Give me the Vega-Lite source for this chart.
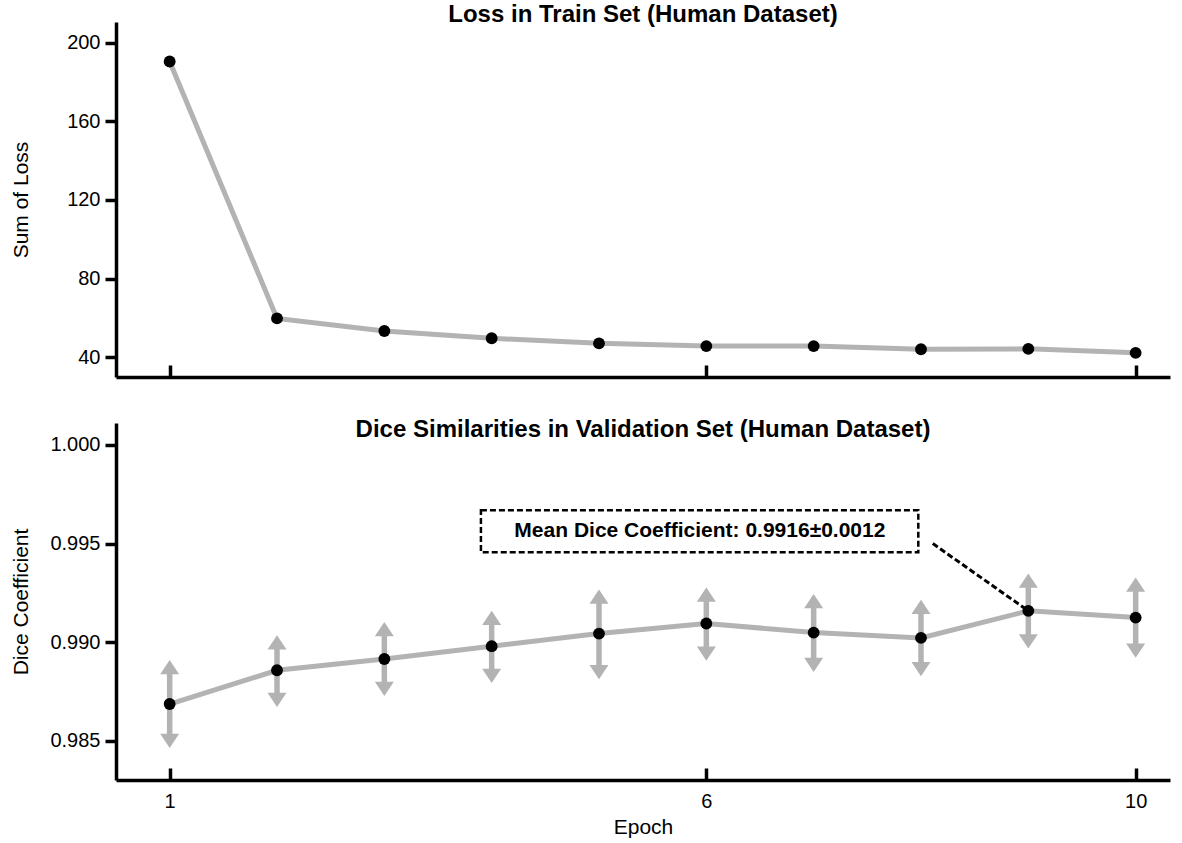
{
  "$schema": "https://vega.github.io/schema/vega-lite/v6.json",
  "autosize": {"type": "pad"},
  "padding": {"left": 10, "top": 3, "right": 10, "bottom": 10},
  "background": "white",
  "config": {
    "view": {"stroke": null},
    "font": "Liberation Sans",
    "axis": {
      "domainColor": "black",
      "domainWidth": 3.5,
      "tickColor": "black",
      "tickWidth": 3.5,
      "grid": false,
      "labelFont": "Liberation Sans",
      "labelFontSize": 20,
      "labelColor": "black",
      "titleFont": "Liberation Sans",
      "titleFontSize": 21,
      "titleFontWeight": "normal",
      "titleColor": "black"
    },
    "title": {"font": "Liberation Sans", "fontSize": 24, "fontWeight": "bold", "color": "black", "anchor": "middle"}
  },
  "datasets": {
    "loss": [
      {"epoch": 1, "loss": 190.4},
      {"epoch": 2, "loss": 59.8},
      {"epoch": 3, "loss": 53.4},
      {"epoch": 4, "loss": 49.7},
      {"epoch": 5, "loss": 47.1},
      {"epoch": 6, "loss": 45.7},
      {"epoch": 7, "loss": 45.7},
      {"epoch": 8, "loss": 44.1},
      {"epoch": 9, "loss": 44.3},
      {"epoch": 10, "loss": 42.3}
    ],
    "dice": [
      {"epoch": 1, "dice": 0.98687, "lo": 0.98464, "hi": 0.98910},
      {"epoch": 2, "dice": 0.98858, "lo": 0.98672, "hi": 0.99036},
      {"epoch": 3, "dice": 0.98915, "lo": 0.98728, "hi": 0.99103},
      {"epoch": 4, "dice": 0.98980, "lo": 0.98794, "hi": 0.99159},
      {"epoch": 5, "dice": 0.99044, "lo": 0.98813, "hi": 0.99267},
      {"epoch": 6, "dice": 0.99095, "lo": 0.98906, "hi": 0.99277},
      {"epoch": 7, "dice": 0.99049, "lo": 0.98849, "hi": 0.99244},
      {"epoch": 8, "dice": 0.99022, "lo": 0.98828, "hi": 0.99216},
      {"epoch": 9, "dice": 0.99159, "lo": 0.98968, "hi": 0.99349},
      {"epoch": 10, "dice": 0.99125, "lo": 0.98922, "hi": 0.99328}
    ],
    "note": [
      {"x1": 3.9, "x2": 7.975, "y1": 0.99456, "y2": 0.99669, "tx": 5.94, "ty": 0.99562, "label": "Mean Dice Coefficient: 0.9916±0.0012", "lx1": 8.11, "ly1": 0.9950, "lx2": 9, "ly2": 0.99159}
    ]
  },
  "bounds": "flush",
  "spacing": 46,
  "vconcat": [
    {
      "width": 1054,
      "height": 355,
      "title": {"text": "Loss in Train Set (Human Dataset)", "offset": -5},
      "data": {"name": "loss"},
      "encoding": {
        "x": {
          "field": "epoch", "type": "quantitative",
          "scale": {"domain": [0.5, 10.32], "nice": false, "zero": false},
          "axis": {"values": [1, 6, 10], "labels": false, "title": null, "tickSize": -12}
        },
        "y": {
          "field": "loss", "type": "quantitative",
          "scale": {"domain": [30, 210.5], "nice": false, "zero": false},
          "axis": {"values": [40, 80, 120, 160, 200], "title": "Sum of Loss", "tickSize": 11, "labelPadding": 5, "titleX": -95, "titleBaseline": "middle", "titleAngle": -90}
        }
      },
      "layer": [
        {"mark": {"type": "line", "color": "#b3b3b3", "strokeWidth": 5}},
        {"mark": {"type": "point", "shape": "circle", "filled": true, "color": "black", "opacity": 1, "size": 140}}
      ]
    },
    {
      "width": 1054,
      "height": 357,
      "title": {"text": "Dice Similarities in Validation Set (Human Dataset)", "offset": -19},
      "encoding": {
        "x": {
          "field": "epoch", "type": "quantitative",
          "scale": {"domain": [0.5, 10.32], "nice": false, "zero": false},
          "axis": {"values": [1, 6, 10], "title": "Epoch", "tickSize": -12, "labelPadding": 23, "titlePadding": 5}
        },
        "y": {
          "field": "dice", "type": "quantitative",
          "scale": {"domain": [0.98302, 1.00111], "nice": false, "zero": false},
          "axis": {"values": [0.985, 0.99, 0.995, 1.0], "format": ".3f", "title": "Dice Coefficient", "tickSize": 11, "labelPadding": 5, "titleX": -95, "titleBaseline": "middle", "titleAngle": -90}
        }
      },
      "layer": [
        {
          "data": {"name": "note"},
          "mark": {"type": "rect", "fill": "white", "stroke": "black", "strokeWidth": 2.5, "strokeDash": [6, 3]},
          "encoding": {
            "x": {"field": "x1", "type": "quantitative"},
            "x2": {"field": "x2"},
            "y": {"field": "y1", "type": "quantitative"},
            "y2": {"field": "y2"}
          }
        },
        {
          "data": {"name": "note"},
          "mark": {"type": "text", "fontSize": 21, "fontWeight": "bold", "color": "black", "align": "center", "baseline": "middle"},
          "encoding": {
            "x": {"field": "tx", "type": "quantitative"},
            "y": {"field": "ty", "type": "quantitative"},
            "text": {"field": "label"}
          }
        },
        {
          "data": {"name": "note"},
          "mark": {"type": "rule", "color": "black", "strokeWidth": 3, "strokeDash": [6, 3]},
          "encoding": {
            "x": {"field": "lx1", "type": "quantitative"},
            "x2": {"field": "lx2"},
            "y": {"field": "ly1", "type": "quantitative"},
            "y2": {"field": "ly2"}
          }
        },
        {
          "data": {"name": "dice"},
          "mark": {"type": "line", "color": "#b3b3b3", "strokeWidth": 5}
        },
        {
          "data": {"name": "dice"},
          "mark": {"type": "rule", "color": "#b3b3b3", "strokeWidth": 5.5, "yOffset": 12, "y2Offset": -12},
          "encoding": {
            "y": {"field": "hi", "type": "quantitative"},
            "y2": {"field": "lo"}
          }
        },
        {
          "data": {"name": "dice"},
          "mark": {"type": "point", "shape": "M0,0L1,1.5L-1,1.5Z", "filled": true, "color": "#b3b3b3", "opacity": 1, "size": 361, "strokeWidth": 0},
          "encoding": {"y": {"field": "hi", "type": "quantitative"}}
        },
        {
          "data": {"name": "dice"},
          "mark": {"type": "point", "shape": "M0,0L1,-1.5L-1,-1.5Z", "filled": true, "color": "#b3b3b3", "opacity": 1, "size": 361, "strokeWidth": 0},
          "encoding": {"y": {"field": "lo", "type": "quantitative"}}
        },
        {
          "data": {"name": "dice"},
          "mark": {"type": "point", "shape": "circle", "filled": true, "color": "black", "opacity": 1, "size": 140}
        }
      ]
    }
  ]
}
